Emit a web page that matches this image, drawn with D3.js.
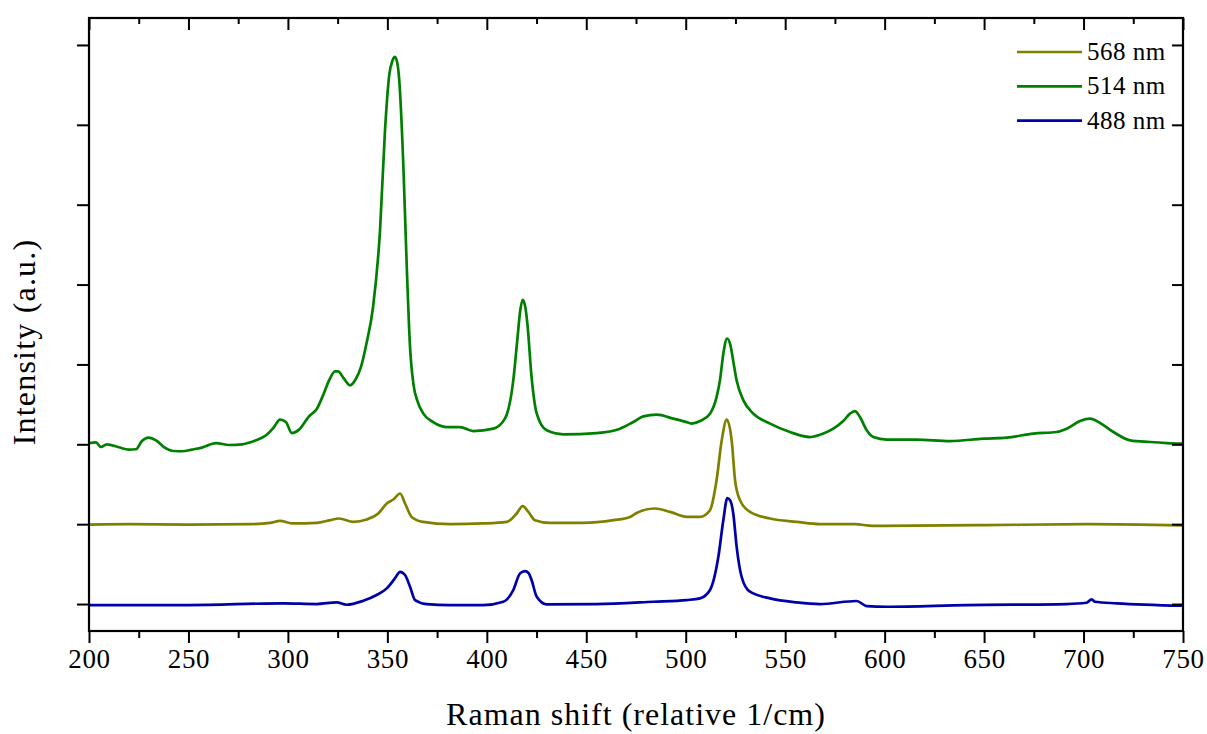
<!DOCTYPE html>
<html>
<head>
<meta charset="utf-8">
<script src="https://cdn.jsdelivr.net/npm/d3@7"></script>
<style>
  html, body { margin: 0; padding: 0; background: #fff; }
  svg { display: block; }
  text { font-family: "Palatino Linotype", "Book Antiqua", Palatino, "Liberation Serif", "DejaVu Serif", serif; fill: #000; }
</style>
</head>
<body>
<svg id="chart" width="1207" height="734"></svg>
<script>
// ---------- DATA ----------
const seriesNames = ["568 nm", "514 nm", "488 nm"];
const seriesColors = ["#808000", "#008000", "#0000a8"];

// 514 nm (stacked intensity, arbitrary units)
const shift514 = [200,203.5,206,209,215,220,223.6,226.6,230,233.7,237.7,242.7,246.8,251.8,256.8,263.8,270.4,277,284,289,293,296,299,302,305.6,310.6,314.6,318,320.7,323.7,325.2,328.2,331.2,334.2,336.7,339.5,342.8,346.3,348.8,351,352.5,353.8,355,356,358,359.7,361.4,363.2,365,368,373,380.5,386.5,393.2,403.3,409.1,413.3,415.3,416.8,418,419.2,420.4,422.5,425.1,430.1,438.5,455.2,467,473.6,478.7,485.4,493.8,500,503,507.2,512.2,515.5,517.2,519,520.8,522.5,524,525.6,529,534,542.4,552.4,562.5,569.2,574.2,579.2,582.6,585.1,587.6,591,594.3,601,616.1,632.9,649.6,661.4,674.8,686.5,691.5,698.2,703.3,708.3,715,723.4,733.4,741.8,750];
const int514 = [2.013,2.025,1.966,2.0,1.963,1.934,1.938,2.041,2.084,2.05,1.966,1.916,1.913,1.934,1.959,2.016,1.991,2.0,2.05,2.113,2.216,2.309,2.279,2.141,2.184,2.35,2.446,2.634,2.8,2.913,2.913,2.821,2.738,2.821,2.966,3.263,3.716,4.675,5.925,6.634,6.8,6.85,6.775,6.55,5.513,4.263,3.216,2.738,2.55,2.388,2.279,2.216,2.216,2.166,2.196,2.321,2.8,3.3,3.675,3.809,3.738,3.509,2.841,2.384,2.175,2.125,2.141,2.196,2.279,2.35,2.371,2.321,2.281,2.259,2.291,2.384,2.591,2.8,3.15,3.325,3.238,3.025,2.8,2.55,2.384,2.259,2.154,2.091,2.134,2.196,2.291,2.384,2.416,2.341,2.175,2.091,2.059,2.059,2.041,2.071,2.084,2.134,2.154,2.196,2.291,2.321,2.266,2.154,2.05,2.029,2.016,2.009];

// 568 nm
const shift568 = [200,220,250,281,291,296,302.7,314.5,321.2,325.8,332.9,339.6,345.4,349.7,353,356.4,358.9,362.2,368,381.5,398.2,410,415,418,420.9,424.2,431.8,448,463.7,472,475.3,484.5,492.1,500.5,507.2,512.2,515.5,518.1,520.6,523.1,524.8,527.3,532.3,542.4,555.8,567.5,585,594,650,703,750];
const int568 = [0.994,1.0,0.994,1.0,1.016,1.041,1.009,1.016,1.05,1.071,1.029,1.059,1.134,1.259,1.309,1.384,1.259,1.091,1.029,1.0,1.009,1.029,1.134,1.225,1.154,1.05,1.016,1.016,1.05,1.091,1.141,1.196,1.154,1.091,1.091,1.175,1.55,2.05,2.309,2.05,1.55,1.3,1.154,1.071,1.029,1.0,1.0,0.979,0.988,1.0,0.984];

// 488 nm
const shift488 = [200,230,250,297.7,314.5,324.5,329.5,337.9,344.6,349.7,353.8,356.4,358.9,361.4,363.9,369.7,381.5,398.2,408.3,413.3,416.7,419.2,421,422.5,425.1,430.1,455,483.7,500.5,507.2,512.2,516.4,518.9,520.9,522.3,523.9,525.6,528.1,532.3,542.4,555.8,567.5,585.9,591,601,641.2,691.5,701.5,704.1,705.7,716.6,750];
const int488 = [-0.013,-0.013,-0.013,0.009,0.0,0.021,-0.009,0.041,0.113,0.196,0.321,0.404,0.363,0.216,0.05,0.0,-0.013,-0.013,0.029,0.175,0.384,0.413,0.388,0.3,0.091,-0.004,0.0,0.029,0.05,0.071,0.175,0.591,1.05,1.325,1.3,1.134,0.716,0.341,0.154,0.071,0.021,0.0,0.038,-0.025,-0.034,-0.013,0.0,0.016,0.059,0.029,0.009,-0.021];

const xTicks = [200,250,300,350,400,450,500,550,600,650,700,750];
const yTicks = [0,1,2,3,4,5,6,7];
const xTitle = "Raman shift (relative 1/cm)";
const yTitle = "Intensity (a.u.)";

// ---------- LAYOUT ----------
const svg = d3.select("#chart");
const L = 89, R = 1183, T = 18, B = 631;

const x = d3.scaleLinear().domain([200, 750]).range([L, R]);
const y = d3.scaleLinear().domain([-0.3375, 7.3375]).range([B, T]);

const series = [
  { name: seriesNames[0], color: seriesColors[0], xs: shift568, ys: int568 },
  { name: seriesNames[1], color: seriesColors[1], xs: shift514, ys: int514 },
  { name: seriesNames[2], color: seriesColors[2], xs: shift488, ys: int488 }
];

const line = d3.line()
  .x(d => x(d[0]))
  .y(d => y(d[1]))
  .curve(d3.curveMonotoneX);

const drawOrder = [series[2], series[0], series[1]];
drawOrder.forEach(s => {
  svg.append("path")
    .datum(s.xs.map((v, i) => [v, s.ys[i]]))
    .attr("fill", "none")
    .attr("stroke", s.color)
    .attr("stroke-width", 2.7)
    .attr("stroke-linejoin", "round")
    .attr("d", line);
});

// ---------- AXES ----------
const minorX = d3.range(225, 750, 50);

function styleAxis(g) {
  g.select(".domain").remove();
  g.selectAll("line").attr("stroke", "#000").attr("stroke-width", 2);
}

const gB = svg.append("g").attr("transform", `translate(0,${B})`)
  .call(d3.axisBottom(x).tickValues(xTicks).tickSize(12).tickPadding(6).tickFormat(d3.format("d")));
styleAxis(gB);
gB.selectAll("text").attr("font-size", 27).attr("fill", "#000")
  .style("letter-spacing", "0.6px")
  .style("font-family", '"Palatino Linotype", "Book Antiqua", Palatino, "Liberation Serif", serif');
svg.append("g").attr("transform", `translate(0,${B})`)
  .call(d3.axisBottom(x).tickValues(minorX).tickSize(7).tickFormat(""))
  .call(styleAxis);

svg.append("g").attr("transform", `translate(0,${T})`)
  .call(d3.axisBottom(x).tickValues(xTicks).tickSize(12).tickFormat(""))
  .call(styleAxis);
svg.append("g").attr("transform", `translate(0,${T})`)
  .call(d3.axisBottom(x).tickValues(minorX).tickSize(6).tickFormat(""))
  .call(styleAxis);

svg.append("g").attr("transform", `translate(${L},0)`)
  .call(d3.axisLeft(y).tickValues(yTicks).tickSize(12).tickFormat(""))
  .call(styleAxis);
svg.append("g").attr("transform", `translate(${R},0)`)
  .call(d3.axisLeft(y).tickValues(yTicks).tickSize(11).tickFormat(""))
  .call(styleAxis);

svg.append("rect")
  .attr("x", L).attr("y", T).attr("width", R - L).attr("height", B - T)
  .attr("fill", "none").attr("stroke", "#000").attr("stroke-width", 2.2);

// ---------- TITLES ----------
svg.append("text")
  .attr("x", (L + R) / 2).attr("y", 725)
  .attr("text-anchor", "middle")
  .attr("font-size", 32)
  .style("letter-spacing", "1px")
  .text(xTitle);

svg.append("text")
  .attr("transform", `translate(35,${342}) rotate(-90)`)
  .attr("text-anchor", "middle")
  .attr("font-size", 32)
  .style("letter-spacing", "1.2px")
  .text(yTitle);

// ---------- LEGEND ----------
series.forEach((s, i) => {
  const yy = 52 + i * 34.3;
  svg.append("line")
    .attr("x1", 1017).attr("x2", 1082)
    .attr("y1", yy).attr("y2", yy)
    .attr("stroke", s.color).attr("stroke-width", 2.7);
  svg.append("text")
    .attr("x", 1087).attr("y", yy + 8)
    .attr("font-size", 25)
    .style("letter-spacing", "0.5px")
    .text(s.name);
});
</script>
</body>
</html>
